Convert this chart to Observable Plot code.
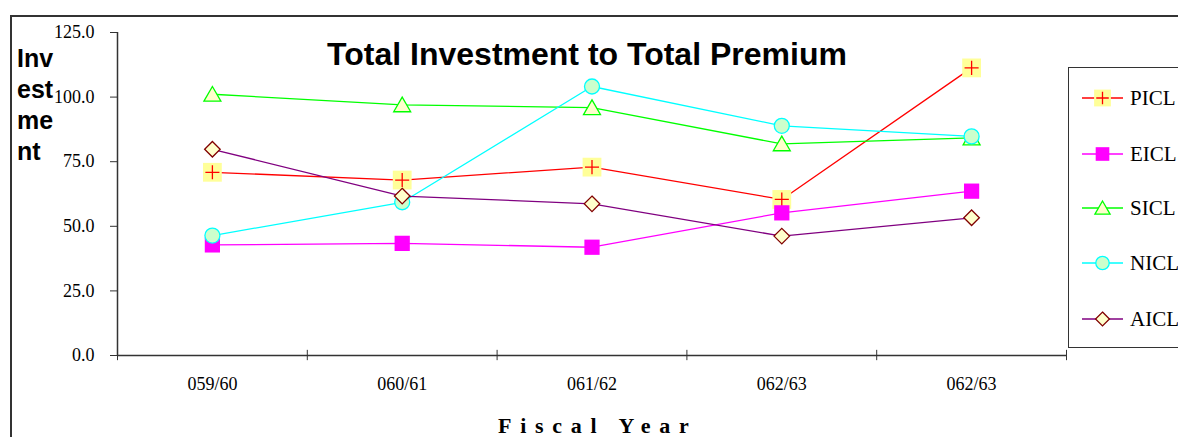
<!DOCTYPE html>
<html>
<head>
<meta charset="utf-8">
<script src="https://cdn.jsdelivr.net/npm/d3@7"></script>
<script src="https://cdn.jsdelivr.net/npm/@observablehq/plot@0.6"></script>
<style>
  html, body { margin: 0; padding: 0; background: #fff; overflow: hidden; }
  #wrap { position: relative; width: 1178px; height: 437px; }
  #frame { position: absolute; left: 10px; top: 15px; width: 1200px; height: 460px; border: 2px solid #333; }
  #title { position: absolute; left: 0; width: 1174px; top: 38px; text-align: center; font: bold 32px "Liberation Sans", Arial, sans-serif; line-height: 32px; white-space: nowrap; }
  #ylab { position: absolute; left: 17px; top: 43px; font: bold 25px "Liberation Sans", Arial, sans-serif; line-height: 31px; }
  #xlab { position: absolute; left: 498px; top: 415px; font: bold 22px "Liberation Serif", "Times New Roman", serif; line-height: 22px; letter-spacing: 8.7px; white-space: nowrap; }
  #legend { position: absolute; left: 1068px; top: 67px; width: 130px; height: 279px; border: 1px solid #333; background: #fff; }
  .item { position: absolute; left: 0; height: 24px; display: flex; align-items: center; font: 21px "Liberation Serif", "Times New Roman", serif; white-space: nowrap; }
  .item svg { display: block; }
  #chart { position: absolute; left: 0; top: 0; }
</style>
</head>
<body>
<div id="wrap">
  <div id="frame"></div>
  <div id="chart"></div>
  <div id="title">Total Investment to Total Premium</div>
  <div id="ylab">Inv<br>est<br>me<br>nt</div>
  <div id="xlab">Fiscal Year</div>
  <div id="legend"></div>
</div>
<script>
// ---- data ----
const years = ["059/60", "060/61", "061/62", "062/63", "062/63"];
const seriesNames = ["PICL", "EICL", "SICL", "NICL", "AICL"];
const PICL = [70.9, 67.9, 72.9, 60.4, 111.3];
const EICL = [42.8, 43.4, 41.9, 55.2, 63.6];
const SICL = [101.1, 97.0, 95.9, 81.9, 84.2];
const NICL = [46.4, 59.3, 104.1, 88.9, 84.8];
const AICL = [79.8, 61.7, 58.7, 46.2, 53.3];
const yTicks = [0, 25, 50, 75, 100, 125];

// ---- styles ----
const styles = {
  PICL: {line: "#ff0000", marks: [
    {symbol: "square", r: 10.6, fill: "#ffff99", stroke: "none"},
    {symbol: "plus", r: 4.6, fill: "none", stroke: "#ff0000", strokeWidth: 1.3}]},
  EICL: {line: "#ff00ff", marks: [
    {symbol: "square", r: 8.6, fill: "#ff00ff", stroke: "none"}]},
  SICL: {line: "#00ff00", marks: [
    {symbol: "triangle", r: 6.3, fill: "#ffffcc", stroke: "#00ff00", strokeWidth: 1.3, dy: 2}]},
  NICL: {line: "#00ffff", marks: [
    {symbol: "circle", r: 7.5, fill: "#ccffcc", stroke: "#00ffff", strokeWidth: 1.3}]},
  AICL: {line: "#800080", marks: [
    {symbol: "diamond2", r: 7.0, fill: "#ffffcc", stroke: "#800000", strokeWidth: 1.3}]}
};
const values = {PICL, EICL, SICL, NICL, AICL};

const rows = name => years.map((yr, i) => ({i, v: values[name][i]}));
const boundaries = d3.range(years.length + 1).map(k => k - 0.5);

const marks = [
  Plot.ruleY([0], {stroke: "#333", strokeWidth: 1.5}),
  Plot.ruleX([-0.5], {stroke: "#333", strokeWidth: 1.5}),
  Plot.ruleX(boundaries, {y1: -2, y2: 2, stroke: "#333", strokeWidth: 1}),
  Plot.axisY({ticks: yTicks, tickFormat: d => d.toFixed(1), tickSize: 7, tickPadding: 16, label: null, stroke: "#333"}),
  Plot.axisX({ticks: d3.range(years.length), tickFormat: i => years[i], tickSize: 0, tickPadding: 22, label: null})
];
for (const name of seriesNames) {
  const data = rows(name);
  marks.push(Plot.line(data, {x: "i", y: "v", stroke: styles[name].line, strokeWidth: 1.3}));
  for (const m of styles[name].marks) {
    marks.push(Plot.dot(data, {x: "i", y: "v", ...m}));
  }
}

const chart = Plot.plot({
  width: 1178,
  height: 437,
  marginLeft: 117,
  marginRight: 112,
  marginTop: 32,
  marginBottom: 82,
  x: {type: "linear", domain: [-0.5, years.length - 0.5], axis: null},
  y: {type: "linear", domain: [0, 125], axis: null},
  style: {fontFamily: "'Liberation Serif', 'Times New Roman', serif", fontSize: "18px", color: "#000", background: "transparent", overflow: "visible"},
  marks
});
document.getElementById("chart").appendChild(chart);

// ---- legend ----
const legend = document.getElementById("legend");
const legendTops = [18, 74, 128, 183, 239];
const symMap = {square: d3.symbolSquare, plus: d3.symbolPlus, triangle: d3.symbolTriangle, circle: d3.symbolCircle, diamond2: d3.symbolDiamond2};
seriesNames.forEach((name, k) => {
  const item = document.createElement("div");
  item.className = "item";
  item.style.top = legendTops[k] + "px";
  const ns = "http://www.w3.org/2000/svg";
  const svg = document.createElementNS(ns, "svg");
  svg.setAttribute("width", 61);
  svg.setAttribute("height", 24);
  const ln = document.createElementNS(ns, "line");
  ln.setAttribute("x1", 13); ln.setAttribute("x2", 54);
  ln.setAttribute("y1", 12); ln.setAttribute("y2", 12);
  ln.setAttribute("stroke", styles[name].line);
  ln.setAttribute("stroke-width", 1.3);
  svg.appendChild(ln);
  for (const m of styles[name].marks) {
    const p = document.createElementNS(ns, "path");
    const size = Math.PI * m.r * m.r * 0.8;
    p.setAttribute("d", d3.symbol(symMap[m.symbol], size)());
    p.setAttribute("transform", `translate(33.5,${12 + (m.dy || 0) * 0.9})`);
    p.setAttribute("fill", m.fill);
    p.setAttribute("stroke", m.stroke);
    p.setAttribute("stroke-width", m.strokeWidth || 1);
    svg.appendChild(p);
  }
  item.appendChild(svg);
  const t = document.createElement("span");
  t.textContent = name;
  item.appendChild(t);
  legend.appendChild(item);
});
</script>
</body>
</html>
